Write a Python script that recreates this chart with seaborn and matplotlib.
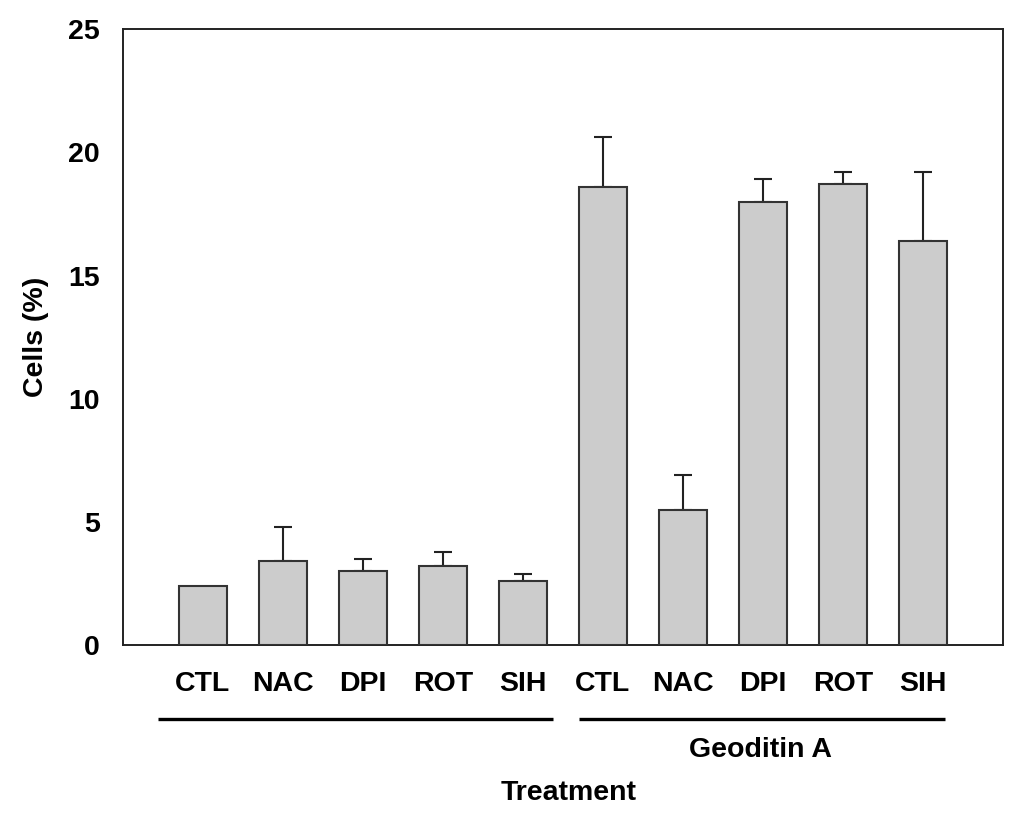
import numpy as np
import pandas as pd
import matplotlib
matplotlib.use("Agg")
import matplotlib.pyplot as plt
import matplotlib.transforms as mtransforms
import seaborn as sns

# values
treatments = ["CTL", "NAC", "DPI", "ROT", "SIH"]
groups = ["Control", "Geoditin A"]
cells_ctrl = [2.4, 3.4, 3.0, 3.2, 2.6]
err_ctrl = [0.0, 1.4, 0.5, 0.6, 0.3]
cells_geo = [18.6, 5.5, 18.0, 18.7, 16.4]
err_geo = [2.0, 1.4, 0.9, 0.5, 2.8]

df = pd.DataFrame({
    "key": [f"{g}_{t}" for g in groups for t in treatments],
    "label": treatments * 2,
    "cells": cells_ctrl + cells_geo,
    "err": err_ctrl + err_geo,
})

sns.set_style("white")
plt.rcParams["font.family"] = ["Liberation Sans", "DejaVu Sans"]
plt.rcParams["font.weight"] = "bold"
plt.rcParams["text.color"] = "black"
plt.rcParams["axes.labelcolor"] = "black"
plt.rcParams["xtick.labelcolor"] = "black"
plt.rcParams["ytick.labelcolor"] = "black"

FS = 20.5
W, H = 1024, 821
fig = plt.figure(figsize=(W / 100, H / 100), dpi=100)
ax = fig.add_axes([123 / W, 1 - 645.3 / H, (1003 - 123) / W, (645.3 - 29) / H])

sns.barplot(data=df, x="key", y="cells", order=df["key"], color="#cccccc",
            saturation=1, width=0.6, edgecolor="#333333", linewidth=1.5,
            errorbar=None, ax=ax, zorder=3)

xpos = np.arange(len(df))
has_err = df["err"].values > 0
ax.errorbar(xpos[has_err], df["cells"].values[has_err],
            yerr=[np.zeros(has_err.sum()), df["err"].values[has_err]],
            fmt="none", ecolor="#222222", elinewidth=1.5, capsize=6.5,
            capthick=1.5, zorder=2)

ax.set_xlim(-1, 10)
ax.set_ylim(0, 25)
ax.set_yticks([0, 5, 10, 15, 20, 25])
ax.set_xticks(xpos)
ax.set_xticklabels(df["label"])
ax.tick_params(axis="both", direction="out", length=6.5, width=1.3,
               color="#222222", labelsize=FS)
ax.tick_params(axis="x", pad=12)
ax.tick_params(axis="y", pad=10)
for lab in ax.get_xticklabels() + ax.get_yticklabels():
    lab.set_fontweight("bold")
for sp in ax.spines.values():
    sp.set_visible(True)
    sp.set_linewidth(1.4)
    sp.set_color("#222222")

ax.set_xlabel("")
ax.set_ylabel("Cells (%)", fontsize=FS, fontweight="bold", labelpad=14)

# group brackets under the tick labels
trans = mtransforms.blended_transform_factory(ax.transData, fig.transFigure)
y_line = 1 - 719 / H
ax.plot([-0.5625, 4.37], [y_line, y_line], color="black", lw=2.4,
        transform=trans, clip_on=False, solid_capstyle="butt")
ax.plot([4.7, 9.28], [y_line, y_line], color="black", lw=2.4,
        transform=trans, clip_on=False, solid_capstyle="butt")
ax.text(6.97, 1 - 750 / H, "Geoditin A", transform=trans, ha="center",
        va="center", fontsize=FS, fontweight="bold")
ax.text(4.57, 1 - 792.5 / H, "Treatment", transform=trans, ha="center",
        va="center", fontsize=FS, fontweight="bold")

fig.savefig("out.png", dpi=100)
